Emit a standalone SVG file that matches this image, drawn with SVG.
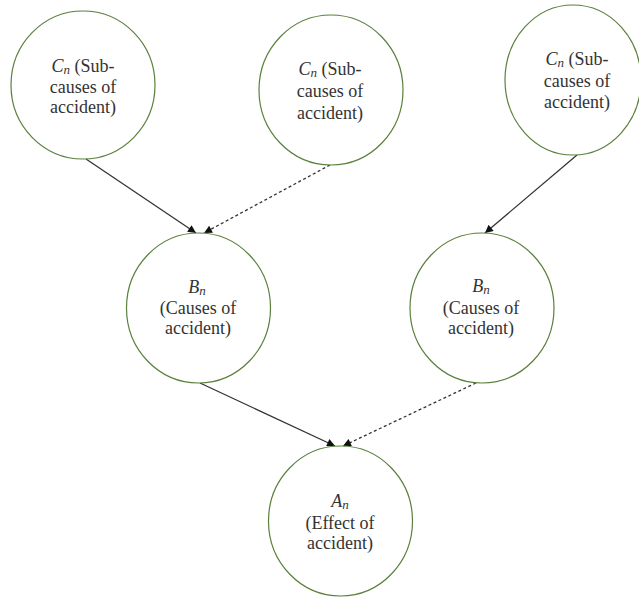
<svg xmlns="http://www.w3.org/2000/svg" width="639" height="599" viewBox="0 0 639 599">
<style>
.node{fill:#fff;stroke:#5b7f3c;stroke-width:1.2}
.lbl{font-family:"Liberation Serif","Times New Roman",serif;font-size:18px;fill:#333;text-anchor:middle}
.m{font-style:italic}
.sub{font-style:italic;font-size:13px}
.edge{stroke:#333;stroke-width:1.3;fill:none}
.dash{stroke-dasharray:3 2.5}
</style>
<defs>
<marker id="ah" viewBox="0 0 10 10" refX="10" refY="5" markerWidth="9" markerHeight="8" markerUnits="userSpaceOnUse" orient="auto">
<path d="M0,0 L10,5 L0,10 z" fill="#111"/>
</marker>
</defs>
<rect width="639" height="599" fill="#fff"/>
<g id="edges">
<line class="edge" x1="86" y1="159" x2="196" y2="233" marker-end="url(#ah)"/>
<line class="edge dash" x1="330" y1="165" x2="204" y2="233" marker-end="url(#ah)"/>
<line class="edge" x1="577" y1="155" x2="485" y2="233" marker-end="url(#ah)"/>
<line class="edge" x1="200" y1="383" x2="335" y2="446" marker-end="url(#ah)"/>
<line class="edge dash" x1="476" y1="383" x2="343" y2="446" marker-end="url(#ah)"/>
</g>
<g id="c1">
<ellipse class="node" cx="83" cy="85" rx="72" ry="74"/>
<text class="lbl" x="83" y="72"><tspan class="m">C</tspan><tspan class="sub" dy="2">n</tspan><tspan dy="-2"> (Sub-</tspan></text>
<text class="lbl" x="83" y="93">causes of</text>
<text class="lbl" x="83" y="113">accident)</text>
</g>
<g id="c2">
<ellipse class="node" cx="331" cy="90" rx="72" ry="75"/>
<text class="lbl" x="330" y="75"><tspan class="m">C</tspan><tspan class="sub" dy="2">n</tspan><tspan dy="-2"> (Sub-</tspan></text>
<text class="lbl" x="330" y="97">causes of</text>
<text class="lbl" x="330" y="119">accident)</text>
</g>
<g id="c3">
<ellipse class="node" cx="573" cy="80" rx="68" ry="75"/>
<text class="lbl" x="577" y="65"><tspan class="m">C</tspan><tspan class="sub" dy="2">n</tspan><tspan dy="-2"> (Sub-</tspan></text>
<text class="lbl" x="577" y="87">causes of</text>
<text class="lbl" x="577" y="108">accident)</text>
</g>
<g id="b1">
<ellipse class="node" cx="198.5" cy="308" rx="72" ry="75"/>
<text class="lbl" x="197" y="293"><tspan class="m">B</tspan><tspan class="sub" dy="2">n</tspan></text>
<text class="lbl" x="198" y="314">(Causes of</text>
<text class="lbl" x="198" y="334">accident)</text>
</g>
<g id="b2">
<ellipse class="node" cx="482" cy="308" rx="72" ry="75"/>
<text class="lbl" x="481" y="292"><tspan class="m">B</tspan><tspan class="sub" dy="2">n</tspan></text>
<text class="lbl" x="481" y="314">(Causes of</text>
<text class="lbl" x="481" y="334">accident)</text>
</g>
<g id="a">
<ellipse class="node" cx="340.5" cy="521" rx="72" ry="75"/>
<text class="lbl" x="340" y="507"><tspan class="m">A</tspan><tspan class="sub" dy="2">n</tspan></text>
<text class="lbl" x="340" y="529">(Effect of</text>
<text class="lbl" x="340" y="549">accident)</text>
</g>
</svg>
